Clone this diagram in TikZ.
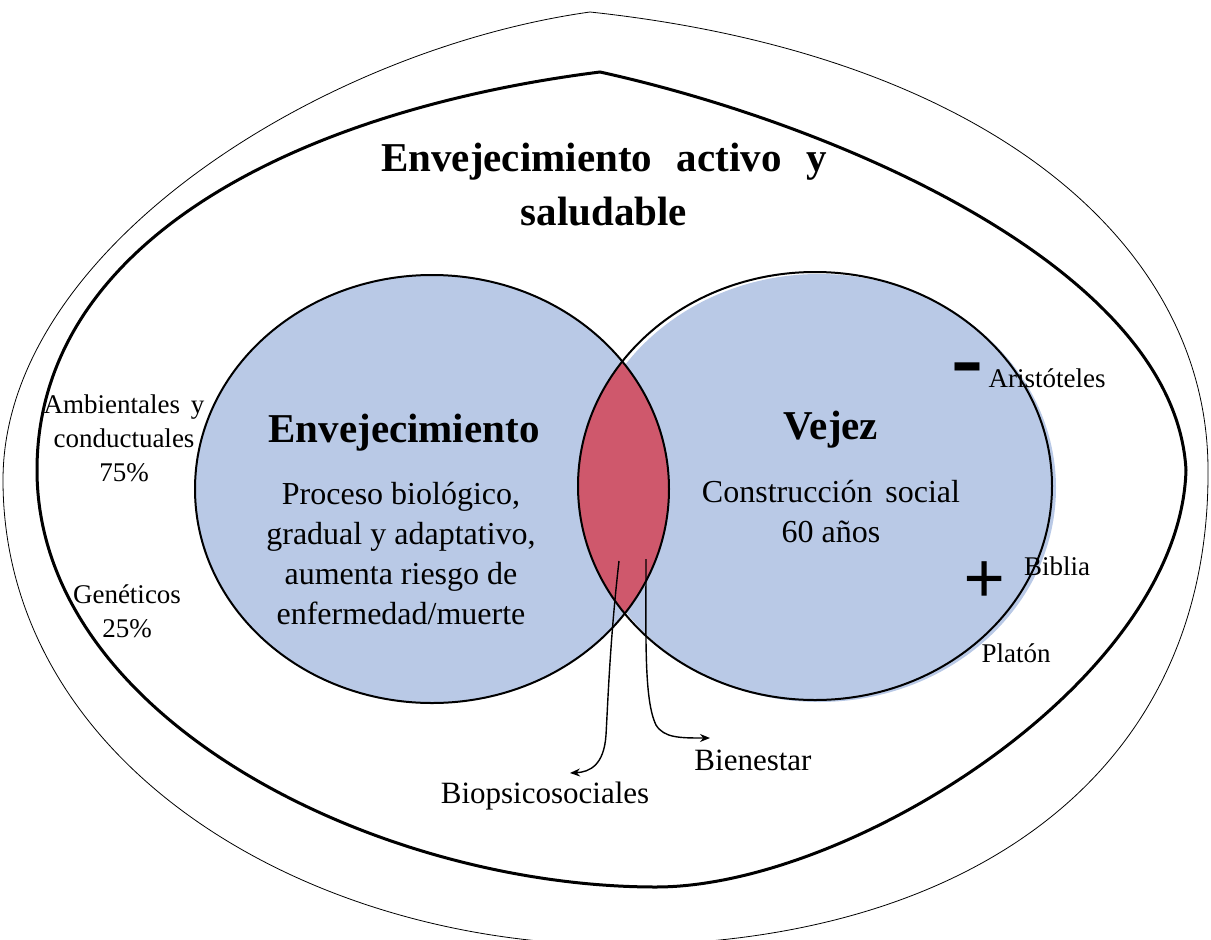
\documentclass[tikz,border=0pt]{standalone}
\usepackage{fontspec}
\setmainfont{Liberation Serif}
\usepackage{tikz}
\usetikzlibrary{arrows.meta, positioning}
\definecolor{vennblue}{RGB}{185,201,230}
\definecolor{lensred}{RGB}{207,88,108}

\begin{document}
\begin{tikzpicture}[
  x=1pt, y=-1pt,
  venn/.style={fill=vennblue},
  ring/.style={draw=black, line width=2pt},
  heading/.style={font=\fontsize{41}{54}\selectfont\bfseries, align=center, inner sep=0pt},
  body/.style={font=\fontsize{32}{40}\selectfont, align=center, inner sep=0pt},
  side/.style={font=\fontsize{27}{34}\selectfont, align=center, inner sep=0pt},
  sign/.style={font=\fontsize{74}{74}\selectfont\bfseries, inner sep=0pt},
  arrow/.style={-{Stealth[length=10pt,width=8pt]}, line width=1.4pt},
]
\clip (0,0) rectangle (1211,940);

% outer frames
\draw[line width=0.8pt] (590,12) .. controls (320,50) and (3,250) .. (3,480)
  .. controls (3,760) and (300,945) .. (620,945)
  .. controls (960,945) and (1210,780) .. (1208,470)
  .. controls (1208,245) and (990,55) .. cycle;
\draw[line width=3pt] (600,72) .. controls (300,110) and (37,240) .. (37,470)
  .. controls (37,720) and (380,887) .. (656,887)
  .. controls (850,887) and (1180,680) .. (1186,470)
  .. controls (1175,270) and (840,125) .. cycle;

% venn
\fill[venn] (432,489) ellipse [x radius=237pt, y radius=214pt];
\fill[venn] (819,488) ellipse [x radius=237pt, y radius=214pt];
\begin{scope}
  \clip (432,489) ellipse [x radius=237pt, y radius=214pt];
  \fill[lensred] (815,486) ellipse [x radius=237pt, y radius=214pt];
\end{scope}
\draw[ring] (432,489) ellipse [x radius=237pt, y radius=214pt];
\draw[ring] (815,486) ellipse [x radius=237pt, y radius=214pt];

% texts
\node[heading] (title) at (604,185) {Envejecimiento\hspace{0.6em}activo\hspace{0.6em}y\\saludable};
\node[heading] (envej) at (404,433) {Envejecimiento};
\node[body] (proceso) at (401,554) {Proceso biológico,\\gradual y adaptativo,\\aumenta riesgo de\\enfermedad/muerte};
\node[heading] (vejez) at (831,430) {Vejez};
\node[body] (social) at (831,512) {Construcción\hspace{0.4em}social\\60 años};

\node[side] (ambient) at (124,438) {Ambientales\hspace{0.4em}y\\conductuales\\75\%};
\node[side] (genet) at (127,611) {Genéticos\\25\%};

\node[sign, font=\fontsize{96}{96}\selectfont\bfseries] (minus) at (967,376) {-};
\node[side] (aris) at (1047,378) {Aristóteles};
\node[sign] (plus) at (985,583) {+};
\node[side] (biblia) at (1057,566) {Biblia};
\node[side] (platon) at (1016,653) {Platón};

\node[body, font=\fontsize{31}{38}\selectfont] (bienestar) at (753,760) {Bienestar};
\node[body, font=\fontsize{31}{38}\selectfont] (biopsico) at (545,796) {Biopsicosociales};

% arrows out of the lens
\coordinate (bioTail) at (619,561);
\coordinate (bioTip) at (570,773);
\coordinate (bienTail) at (646,559);
\coordinate (bienTip) at (710,738);
\draw[arrow] (bioTail) .. controls (610,640) and (608,700) .. (606,735)
  .. controls (604,765) and (590,772) .. (bioTip);
\draw[arrow] (bienTail) .. controls (646,640) and (644,700) .. (656,725)
  .. controls (664,738) and (680,738) .. (bienTip);

\end{tikzpicture}
\end{document}
